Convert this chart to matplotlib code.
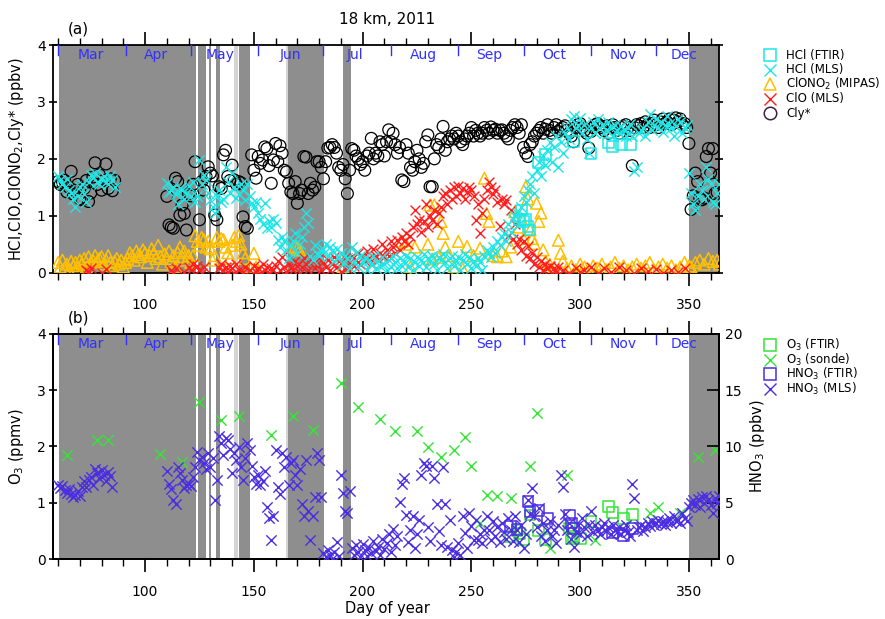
import numpy as np
import matplotlib
matplotlib.use("Agg")
import matplotlib.pyplot as plt
from matplotlib.lines import Line2D
import matplotlib.transforms as mtransforms

# ---------------- data ----------------
# Cly* (ppbv)
cly_day = [60, 61, 62, 63, 64, 65, 66, 67, 68, 69, 70, 71, 72, 73, 74, 75, 76, 77, 78, 79, 80, 81, 82, 83, 84, 85, 86,
           110, 111, 112, 113, 114, 115, 116, 117, 118, 119, 120, 121, 122, 123, 125, 126, 127, 128, 129, 130, 131, 132,
           133, 134, 135, 136, 137, 138, 139, 140, 141, 142, 143, 144, 145, 146, 147, 149, 150, 151, 152, 153, 154, 155,
           156, 157, 158, 159, 160, 161, 162, 163, 164, 165, 166, 167, 168, 169, 170, 171, 172, 173, 174, 175, 176, 177,
           178, 179, 180, 181, 182, 183, 184, 185, 186, 187, 188, 189, 190, 191, 192, 193, 194, 195, 196, 197, 198, 199,
           200, 201, 202, 203, 204, 205, 206, 207, 208, 209, 210, 211, 212, 213, 214, 215, 216, 217, 218, 219, 220, 221,
           222, 223, 224, 225, 226, 227, 228, 229, 230, 231, 232, 233, 234, 235, 236, 237, 238, 239, 240, 241, 242, 243,
           244, 245, 246, 247, 248, 249, 250, 251, 252, 253, 254, 255, 256, 257, 258, 259, 260, 261, 262, 263, 264, 265,
           266, 267, 268, 269, 270, 271, 272, 273, 274, 275, 276, 277, 278, 279, 280, 281, 282, 283, 284, 285, 286, 287,
           288, 289, 290, 291, 292, 293, 294, 295, 296, 297, 298, 299, 300, 301, 302, 303, 304, 305, 306, 307, 308, 309,
           310, 311, 312, 313, 314, 315, 316, 317, 318, 319, 320, 321, 322, 323, 324, 325, 326, 327, 328, 329, 330, 331,
           332, 333, 334, 335, 336, 337, 338, 339, 340, 341, 342, 343, 344, 345, 346, 347, 348, 349, 350,
           351, 352, 353, 354, 355, 356, 357, 358, 359, 360, 361, 362, 363, 364]
cly_val = [1.60, 1.55, 1.58, 1.62, 1.42, 1.50, 1.78, 1.38, 1.45, 1.55, 1.30, 1.28, 1.48, 1.62, 1.25, 1.40, 1.68, 1.93,
           1.55, 1.72, 1.45, 1.62, 1.91, 1.48, 1.65, 1.44, 1.62,
           1.34, 0.84, 0.80, 0.78, 1.66, 1.60, 1.01, 1.19, 1.04, 0.75, 1.39, 1.35, 1.55, 1.95, 0.93, 1.60, 1.45, 1.69,
           1.86, 1.75, 1.70, 1.01, 0.93, 1.51, 1.48, 2.07, 2.15, 1.69, 1.62, 1.89, 1.63, 1.55, 1.60, 1.58, 0.98, 0.81,
           0.78, 2.07, 1.80, 1.66, 2.04, 1.92, 1.98, 2.21, 2.18, 1.88, 1.57, 1.98, 2.27, 1.95, 2.23, 2.10, 1.80, 1.77,
           1.57, 1.42, 1.39, 1.60, 1.22, 1.39, 1.45, 2.04, 2.03, 1.39, 1.57, 1.45, 1.50, 1.95, 1.95, 1.85, 1.65, 1.95,
           2.19, 2.20, 2.25, 2.20, 2.10, 1.85, 1.80, 1.90, 1.65, 1.39, 1.80, 2.18, 2.15, 2.05, 2.00, 1.90, 1.95, 1.80,
           2.05, 2.10, 2.36, 2.00, 2.10, 2.05, 2.30, 2.25, 2.05, 2.30, 2.51, 2.30, 2.45, 2.25, 2.10, 2.20, 1.63, 1.60,
           2.25, 2.10, 1.85, 1.80, 1.95, 2.15, 2.00, 1.85, 1.92, 2.30, 2.42, 1.51, 1.51, 2.00, 2.25, 2.20, 2.35, 2.57,
           2.15, 2.30, 2.35, 2.40, 2.35, 2.45, 2.40, 2.30, 2.25, 2.35, 2.40, 2.45, 2.55, 2.40, 2.50, 2.45, 2.40, 2.45,
           2.55, 2.50, 2.45, 2.56, 2.50, 2.52, 2.45, 2.50, 2.51, 2.45, 2.40, 2.35, 2.50, 2.55, 2.60, 2.55, 2.45, 2.60,
           2.20, 2.10, 2.04, 2.25, 2.30, 2.40, 2.45, 2.50, 2.55, 2.45, 2.52, 2.60, 2.50, 2.45, 2.55, 2.60, 2.48, 2.52,
           2.55, 2.58, 2.50, 2.45, 2.40, 2.30, 2.55, 2.60, 2.62, 2.55, 2.50, 2.45, 2.19, 2.48, 2.55, 2.60, 2.62, 2.58,
           2.55, 2.50, 2.58, 2.45, 2.55, 2.60, 2.55, 2.50, 2.45, 2.55, 2.58, 2.60, 2.55, 2.50, 1.88, 2.55, 2.60, 2.58,
           2.62, 2.55, 2.65, 2.60, 2.55, 2.62, 2.68, 2.60, 2.55, 2.65, 2.70, 2.62, 2.65, 2.70, 2.60, 2.68, 2.72, 2.65,
           2.70, 2.60, 2.62, 2.55, 2.27,
           1.11, 1.35, 1.75, 1.60, 1.31, 1.28, 1.31, 2.04, 2.18, 1.75, 2.18, 1.39, 1.41, 1.72]

# HCl (MLS)
hcl_mls_day = [60, 61, 62, 63, 64, 65, 66, 67, 68, 69, 70, 71, 72, 73, 74, 75, 76, 77, 78, 79, 80, 81, 82, 83, 84, 85, 86,
               110, 111, 112, 113, 114, 115, 116, 117, 118, 119, 120, 121, 122, 123, 124, 125, 126, 127, 128, 129, 130,
               131, 132, 133, 134, 135, 136, 137, 138, 139, 140, 141, 142, 143, 144, 145, 146, 147, 148, 149, 150, 151,
               152, 153, 154, 155, 156, 157, 158, 159, 160, 161, 162, 163, 164, 165, 166, 167, 168, 169, 170, 171, 172,
               173, 174, 175, 176, 177, 178, 179, 180, 181, 182, 183, 184, 185, 186, 187, 188, 189, 190, 191, 192, 193,
               194, 195, 196, 197, 198, 199, 200, 201, 202, 203, 204, 205, 206, 207, 208, 209, 210, 211, 212, 213, 214,
               215, 216, 217, 218, 219, 220, 221, 222, 223, 224, 225, 226, 227, 228, 229, 230, 231, 232, 233, 234, 235,
               236, 237, 238, 239, 240, 241, 242, 243, 244, 245, 246, 247, 248, 249, 250, 251, 252, 253, 254, 255, 256,
               257, 258, 259, 260, 261, 262, 263, 264, 265, 266, 267, 268, 269, 270, 271, 272, 273, 274, 275, 276, 277,
               278, 279, 280, 281, 282, 283, 284, 285, 286, 287, 288, 289, 290, 291, 292, 293, 294, 295, 296, 297, 298,
               299, 300, 301, 302, 303, 304, 305, 306, 307, 308, 309, 310, 311, 312, 313, 314, 315, 316, 317, 318, 319,
               320, 321, 322, 323, 324, 325, 326, 327, 328, 329, 330, 331, 332, 333, 334, 335, 336, 337, 338, 339, 340,
               341, 342, 343, 344, 345, 346, 347, 348, 349, 350, 351, 352, 353, 354, 355, 356, 357, 358, 359, 360, 361,
               362, 363, 364]
hcl_mls_val = [1.70, 1.62, 1.55, 1.50, 1.65, 1.45, 1.40, 1.30, 1.15, 1.35, 1.50, 1.55, 1.38, 1.25, 1.60, 1.72, 1.68,
               1.75, 1.60, 1.55, 1.65, 1.70, 1.60, 1.55, 1.70, 1.62, 1.50,
               1.58, 1.42, 1.45, 1.50, 1.38, 1.20, 1.48, 1.45, 1.30, 1.40, 1.52, 1.35, 1.60, 1.25, 1.35, 1.98, 1.55,
               1.72, 1.62, 1.40, 1.28, 1.15, 1.05, 1.35, 1.45, 1.25, 1.30, 1.85, 1.60, 1.40, 1.75, 1.50, 1.32, 1.38,
               1.55, 1.45, 1.28, 1.55, 1.35, 1.22, 1.15, 1.25, 1.05, 0.95, 0.85, 1.22, 0.78, 0.90, 0.80, 0.95, 0.88,
               0.58, 0.45, 0.62, 0.55, 0.40, 0.25, 0.48, 0.55, 0.70, 0.35, 0.50, 0.62, 0.80, 1.05, 0.88, 0.30, 0.22,
               0.48, 0.35, 0.30, 0.38, 0.42, 0.50, 0.30, 0.45, 0.38, 0.20, 0.42, 0.28, 0.35, 0.15, 0.30, 0.25, 0.08,
               0.45, 0.20, 0.35, 0.10, 0.30, 0.18, 0.25, 0.05, 0.22, 0.15, 0.30, 0.08, 0.20, 0.12, 0.28, 0.15, 0.05,
               0.22, 0.10, 0.30, 0.18, 0.08, 0.25, 0.12, 0.20, 0.30, 0.10, 0.25, 0.05, 0.18, 0.28, 0.12, 0.22, 0.32,
               0.10, 0.25, 0.20, 0.30, 0.15, 0.05, 0.28, 0.22, 0.32, 0.18, 0.08, 0.25, 0.30, 0.12, 0.20, 0.28, 0.05,
               0.22, 0.32, 0.15, 0.25, 0.08, 0.20, 0.12, 0.25, 0.18, 0.05, 0.30, 0.40, 0.35, 0.28, 0.45, 0.35, 0.55,
               0.48, 0.62, 0.70, 0.55, 0.85, 0.72, 0.95, 1.00, 1.05, 0.85, 1.15, 1.35, 1.25, 1.45, 1.55, 1.70, 1.40,
               1.80, 1.95, 1.70, 2.05, 1.90, 2.15, 2.30, 1.95, 2.20, 2.40, 1.85, 2.30, 2.10, 2.45, 2.55, 2.35, 2.70,
               2.75, 2.55, 2.60, 2.72, 2.45, 2.60, 2.35, 2.10, 2.55, 2.65, 2.45, 2.70, 2.55, 2.60, 2.45, 2.50, 2.65,
               2.55, 2.40, 2.60, 2.50, 2.45, 2.58, 2.50, 2.40, 2.55, 2.62, 2.40, 1.78, 1.85, 2.45, 2.50, 2.55, 2.40,
               2.65, 2.78, 2.50, 2.60, 2.70, 2.55, 2.65, 2.48, 2.60, 2.75, 2.62, 2.55, 2.40, 2.58, 2.70, 2.65, 2.45,
               2.55, 2.60, 1.75, 1.40, 1.20, 1.10, 1.35, 1.55, 1.45, 1.30, 1.85, 1.65, 1.55, 1.25, 1.20, 1.40, 1.55]

# HCl (FTIR)
hcl_ftir_day = [272, 273, 274, 275, 276, 277, 281, 284, 297, 305, 313, 315, 319, 323]
hcl_ftir_val = [0.93, 1.10, 0.90, 0.93, 0.81, 0.75, 1.93, 2.07, 2.30, 2.10, 2.28, 2.22, 2.25, 2.25]

# ClONO2 (MIPAS)
clono2_day = [60, 61, 62, 63, 64, 65, 66, 67, 68, 69, 70, 71, 72, 73, 74, 75, 76, 77, 78, 79, 80, 81, 82, 83, 84, 85,
              86, 87, 88, 89, 90, 91, 92, 93, 94, 95, 96, 97, 98, 99, 100, 101, 102, 103, 104, 105, 106, 107, 108, 109,
              110, 111, 112, 113, 114, 115, 116, 117, 118, 119, 120, 121, 122, 123, 124, 125, 126, 127, 128, 129, 130,
              131, 132, 133, 134, 135, 136, 137, 138, 139, 140, 141, 142, 143, 144, 145, 146, 147, 148, 150, 151, 152,
              169, 170, 171, 191,
              218, 220, 222, 224, 230, 231, 232, 233, 235, 236, 237, 238, 240, 242, 244, 246, 248,
              251, 254, 256, 257, 258, 260, 262, 264, 266, 268, 270, 272,
              273, 274, 275, 276, 277, 278, 279, 280, 281, 282, 283, 284,
              286, 288, 290, 291, 292,
              294, 296, 298, 300, 302, 304, 306, 308, 310, 312, 314, 316, 318, 320, 322, 324, 326, 328, 330, 332,
              334, 336, 338, 340, 342, 344, 346, 348, 350,
              351, 353, 355, 357, 359, 361, 363, 364]
clono2_val = [0.18, 0.10, 0.22, 0.08, 0.15, 0.05, 0.20, 0.12, 0.18, 0.08, 0.22, 0.15, 0.25, 0.10, 0.28, 0.18, 0.22,
              0.30, 0.20, 0.25, 0.28, 0.15, 0.22, 0.30, 0.18, 0.12, 0.20, 0.25, 0.15, 0.22, 0.10, 0.18, 0.25, 0.35,
              0.30, 0.22, 0.38, 0.32, 0.28, 0.40, 0.35, 0.18, 0.30, 0.42, 0.35, 0.25, 0.48, 0.28, 0.15, 0.33, 0.25,
              0.38, 0.20, 0.30, 0.10, 0.35, 0.45, 0.28, 0.38, 0.22, 0.30, 0.18, 0.30, 0.65, 0.55, 0.48, 0.62, 0.58,
              0.45, 0.55, 0.42, 0.22, 0.30, 0.62, 0.55, 0.60, 0.58, 0.45, 0.35, 0.25, 0.48, 0.62, 0.55, 0.65, 0.50,
              0.35, 0.25, 0.05, 0.10, 0.34, 0.10, 0.05,
              0.46, 0.43, 0.40, 0.10,
              0.55, 0.50, 0.10, 0.45, 0.50, 1.19, 0.24, 1.19, 0.27, 0.90, 0.69, 0.45, 0.30, 0.10, 0.55, 0.07, 0.46,
              0.30, 0.43, 1.66, 1.04, 0.90, 0.30, 0.28, 0.38, 0.28, 0.45, 1.07, 0.80,
              0.95, 0.60, 1.51, 1.30, 0.75, 0.60, 0.51, 1.22, 0.90, 1.05, 0.40, 0.20,
              0.15, 0.10, 0.57, 0.34, 0.20,
              0.08, 0.12, 0.05, 0.15, 0.10, 0.05, 0.12, 0.08, 0.15, 0.05, 0.10, 0.18, 0.08, 0.12, 0.05, 0.10, 0.15,
              0.08, 0.12, 0.18, 0.05, 0.10, 0.15, 0.08, 0.12, 0.05, 0.10, 0.18, 0.12,
              0.10, 0.18, 0.22, 0.15, 0.25, 0.20, 0.22, 0.15]

# ClO (MLS)
clo_day = [73, 74, 75, 80, 82, 112, 113, 114, 118, 120, 121, 122, 124, 125, 126, 127, 134, 135, 136, 137, 138, 139,
           140, 141, 142, 143, 145, 146, 148, 150, 151, 152, 153, 154, 155, 156, 157, 158, 159, 160, 161, 162, 163, 164,
           165, 166, 167, 168, 169, 170, 171, 172, 173, 174, 175, 176, 177, 178, 179, 180, 181, 182, 183, 184, 185, 186,
           187, 188, 189, 190, 191, 192, 193, 194, 195, 196, 197, 198, 199, 200, 201, 202, 203, 204, 205, 206, 207, 208,
           209, 210, 211, 212, 213, 214, 215, 216, 217, 218, 219, 220, 221, 222, 223, 224, 225, 226, 227, 228, 229, 230,
           231, 232, 233, 234, 235, 236, 237, 238, 239, 240, 241, 242, 243, 244, 245, 246, 247, 248, 249, 250, 251, 252,
           253, 254, 255, 256, 257, 258, 259, 260, 261, 262, 263, 264, 265, 266, 267, 268, 269, 270, 271, 272, 273, 274,
           275, 276, 277, 278, 279, 280, 281, 282, 283, 284, 285, 286, 287, 288, 289, 290, 292, 295, 298, 300, 302, 305,
           308, 311, 314, 318, 321, 325, 328, 331, 335, 338, 342, 345, 348]
clo_val = [0.05, 0.02, 0.08, 0.00, 0.07, 0.05, 0.00, 0.08, 0.02, 0.10, 0.05, 0.15, 0.12, 0.05, 0.00, 0.10, 0.08, 0.15,
           0.05, 0.10, 0.02, 0.12, 0.08, 0.00, 0.15, 0.05, 0.02, 0.10, 0.05, 0.12, 0.02, 0.08, 0.00, 0.15, 0.05, 0.10,
           0.00, 0.08, 0.05, 0.12, 0.20, 0.05, 0.28, 0.10, 0.02, 0.15, 0.08, 0.05, 0.20, 0.12, 0.00, 0.10, 0.25, 0.15,
           0.05, 0.30, 0.20, 0.08, 0.15, 0.25, 0.05, 0.18, 0.10, 0.22, 0.05, 0.15, 0.28, 0.10, 0.20, 0.02, 0.15, 0.25,
           0.08, 0.18, 0.30, 0.12, 0.22, 0.35, 0.15, 0.28, 0.20, 0.38, 0.25, 0.15, 0.42, 0.30, 0.22, 0.35, 0.50, 0.28,
           0.40, 0.30, 0.55, 0.45, 0.35, 0.58, 0.40, 0.62, 0.55, 0.70, 0.50, 0.65, 0.80, 1.10, 0.85, 0.93, 0.72, 0.90,
           1.20, 0.80, 1.00, 0.92, 1.10, 0.85, 1.05, 1.15, 1.35, 1.40, 1.20, 1.45, 1.30, 1.50, 1.35, 1.52, 1.40, 1.48,
           1.30, 1.42, 1.50, 1.45, 1.35, 0.93, 1.20, 0.70, 1.05, 1.30, 1.45, 1.60, 1.50, 1.38, 1.45, 1.25, 0.82, 1.30,
           1.20, 1.28, 0.65, 1.10, 0.60, 0.85, 0.50, 0.60, 0.40, 0.55, 0.30, 0.47, 0.25, 0.35, 0.15, 0.28, 0.10, 0.20,
           0.05, 0.15, 0.08, 0.12, 0.00, 0.08, 0.02, 0.10, 0.05, 0.00, 0.08, 0.02, 0.05, 0.10, 0.00, 0.08, 0.02, 0.10,
           0.05, 0.00, 0.08, 0.03, 0.07, 0.00, 0.05, 0.02, 0.08]

# O3 sonde (ppmv)
o3_sonde_day = [64, 78, 83, 107, 117, 125, 135, 143, 158, 168, 177, 190, 198, 208, 215, 225, 230, 236, 242, 247, 250,
                254, 257, 262, 268, 277, 280, 286, 294, 307, 332, 336, 346, 354, 362]
o3_sonde_val = [1.85, 2.11, 2.12, 1.86, 1.73, 2.78, 2.46, 2.54, 2.20, 2.54, 2.29, 3.12, 2.69, 2.48, 2.28, 2.28, 1.98,
                1.82, 1.94, 2.16, 1.65, 0.64, 1.14, 1.12, 1.08, 1.65, 2.60, 0.19, 1.49, 0.33, 0.81, 0.92, 0.82, 1.81,
                1.94]

# O3 FTIR (ppmv)
o3_ftir_day = [268, 271, 272, 274, 277, 281, 284, 295, 296, 297, 300, 305, 313, 315, 320, 324]
o3_ftir_val = [0.40, 0.51, 0.45, 0.34, 0.78, 0.51, 0.34, 0.55, 0.37, 0.40, 0.36, 0.66, 0.93, 0.82, 0.72, 0.79]

# HNO3 FTIR (ppbv)
hno3_ftir_day = [268, 271, 276, 277, 281, 285, 295, 296, 297, 315, 320, 324]
hno3_ftir_val = [2.9, 2.6, 5.1, 4.2, 4.3, 3.6, 3.9, 3.2, 2.7, 2.3, 2.1, 2.7]

# HNO3 MLS (ppbv)
hno3_mls_day = [60, 61, 62, 63, 64, 65, 66, 67, 68, 69, 70, 71, 72, 73, 74, 75, 76, 77, 78, 79, 80, 81, 82, 83, 84, 85,
                110, 111, 112, 113, 114, 115, 116, 117, 118, 119, 120, 121, 122, 123, 124, 125, 126, 127, 128, 129,
                130, 131, 132, 133, 134, 135, 136, 137, 138, 139, 140, 141, 142, 143, 144, 145, 146, 147, 148, 149,
                150, 151, 152, 153, 154, 155, 156, 157, 158, 159, 160, 161, 162, 163, 164, 165, 166, 167, 168, 169,
                170, 171, 172, 173, 174, 175, 176, 177, 178, 179, 180, 181, 182, 183, 184, 185, 186, 187, 188, 189,
                190, 191, 192, 193, 194, 195, 196, 197, 198, 199, 200, 201, 202, 203, 204, 205, 206, 207, 208, 209,
                210, 211, 212, 213, 214, 215, 216, 217, 218, 219, 220, 221, 222, 223, 224, 225, 226, 227, 228, 229,
                230, 231, 232, 233, 234, 235, 236, 237, 238, 239, 240, 241, 242, 243, 244, 245, 246, 247, 248, 249,
                250, 251, 252, 253, 254, 255, 256, 257, 258, 259, 260, 261, 262, 263, 264, 265, 266, 267, 268, 269,
                270, 271, 272, 273, 274, 275, 276, 277, 278, 279, 280, 281, 282, 283, 284, 285, 286, 287, 288, 289,
                290, 291, 292, 293, 294, 295, 296, 297, 298, 299, 300, 301, 302, 303, 304, 305, 306, 307, 308, 309,
                310, 311, 312, 313, 314, 315, 316, 317, 318, 319, 320, 321, 322, 323, 324, 325, 326, 327, 328, 329,
                330, 331, 332, 333, 334, 335, 336, 337, 338, 339, 340, 341, 342, 343, 344, 345, 346, 347, 348, 349,
                350, 351, 352, 353, 354, 355, 356, 357, 358, 359, 360, 361, 362, 363, 364]
hno3_mls_val = [6.6, 6.3, 6.5, 6.1, 5.9, 6.2, 5.8, 5.5, 5.7, 6.0, 5.6, 6.4, 6.9, 6.4, 7.0, 7.3, 6.6, 8.0, 7.6, 7.2,
                7.9, 7.5, 6.9, 7.7, 7.4, 6.4,
                7.8, 6.7, 6.2, 5.2, 4.9, 8.2, 7.6, 7.0, 6.3, 6.6, 6.7, 6.5, 7.3, 8.2, 9.5, 8.8, 9.1, 8.5, 8.0, 9.4,
                8.2, 9.0, 5.2, 7.0, 10.9, 10.3, 9.2, 10.7, 10.6, 9.8, 7.6, 9.4, 8.8, 9.9, 8.2, 7.0, 9.0, 10.3, 9.7,
                8.3, 7.3, 6.7, 7.5, 6.6, 6.9, 7.8, 4.6, 3.6, 1.7, 3.8, 9.7, 6.4, 5.8, 9.4, 8.2, 9.1, 6.6, 8.5, 8.8,
                7.5, 6.6, 8.0, 4.9, 3.8, 8.8, 4.3, 1.7, 3.8, 5.5, 9.4, 8.8, 5.5,
                0.5, 0.2, 0.8, 0.4, 0.0, 0.6, 1.5, 0.3, 7.5, 5.9, 4.3, 4.1, 6.0, 1.0, 0.4, 1.2, 0.6, 0.2, 1.3, 0.8,
                0.3, 1.0, 0.5, 1.6, 0.7, 1.1, 0.4, 1.8, 0.9, 1.4, 2.2, 0.6, 2.7, 1.2, 2.0, 5.1, 6.7, 7.2, 3.9, 1.5,
                2.6, 3.8, 1.0, 2.2, 3.5, 7.5, 8.5, 8.3, 2.8, 1.6, 8.3, 7.2, 4.9, 2.5,
                1.2, 8.2, 4.9, 1.1, 3.5, 0.8, 0.2, 0.6, 1.4, 0.4, 3.8, 2.3, 1.0, 4.1, 2.9, 1.7, 3.5, 1.7, 2.2, 1.4,
                2.6, 3.8, 2.6, 1.7, 3.4, 2.0, 2.8, 1.5, 3.2, 2.4, 1.8, 3.6, 2.6, 1.6, 3.8, 2.6, 1.5, 3.0, 1.0, 2.2,
                5.2, 4.0, 6.3, 3.8, 2.8, 4.5, 2.0, 3.2, 1.6, 2.6, 3.4, 2.0, 2.6, 1.4, 3.0, 7.5, 6.4, 4.0, 2.6, 3.2,
                1.8, 1.1, 2.4, 3.0, 2.2, 3.6, 2.8, 2.0, 3.0, 4.3, 2.4, 3.0, 2.6, 2.2, 2.8, 3.2, 2.5, 2.8, 2.2, 3.0,
                2.6, 2.4, 2.8, 2.2, 2.6, 3.0, 2.4, 2.0, 6.7, 5.4, 2.6, 2.8, 3.0, 2.5, 2.8, 3.2, 2.9, 3.4, 3.0, 3.2,
                3.5, 3.1, 3.4, 3.0, 3.3, 3.6, 3.2, 3.8, 3.4, 3.5, 3.2, 4.1, 3.6, 3.4, 4.6, 5.0, 5.2, 4.8, 5.3, 4.6,
                5.5, 5.0, 5.6, 5.2, 4.8, 4.1, 5.4, 5.0, 5.6]

# periods without sunlight / shading (day ranges)
dark_spans = [(60.2, 123.2), (124.4, 128.0), (129.5, 130.3), (132.4, 134.3), (143.3, 148.4),
              (165.7, 182.4), (191.1, 194.5), (349.9, 364.5)]
light_spans = [(140.8, 142.7), (164.8, 165.7)]

month_start = [60, 91, 121, 152, 182, 213, 244, 274, 305, 335]
month_names = ['Mar', 'Apr', 'May', 'Jun', 'Jul', 'Aug', 'Sep', 'Oct', 'Nov', 'Dec']
month_mid = [75, 105, 134.5, 167, 196.5, 228, 258, 288, 320, 348]

# ---------------- colours ----------------
c_cyan = '#1ee6e6'
c_orange = '#ffbf00'
c_red = '#ff1e1e'
c_green = '#33e633'
c_blue = '#4a2ee0'
c_month = '#3030ff'
c_gray = '#8e8e8e'

plt.rcParams['font.family'] = 'DejaVu Sans'

fig = plt.figure(figsize=(8.85, 6.19), dpi=100)
ax1 = fig.add_axes([0.0595, 0.5595, 0.7533, 0.3678])
ax2 = fig.add_axes([0.0595, 0.0969, 0.7533, 0.3640])


def decorate(ax):
    for a, b in dark_spans:
        ax.axvspan(a, b, color=c_gray, lw=0, zorder=0)
    for a, b in light_spans:
        ax.axvspan(a, b, color='#d4d4d4', lw=0, zorder=0)
    trans = mtransforms.blended_transform_factory(ax.transData, ax.transAxes)
    for d in month_start:
        ax.plot([d, d], [1.0, 0.955], color=c_month, lw=1, transform=trans, zorder=5, clip_on=False)
    for d, name in zip(month_mid, month_names):
        ax.text(d, 0.955, name, color=c_month, fontsize=10, ha='center', va='center', transform=trans, zorder=5)
    ax.set_xlim(57.5, 364)
    ax.set_ylim(0, 4)
    ax.set_xticks([100, 150, 200, 250, 300, 350])
    ax.set_xticks(np.arange(60, 364, 10), minor=True)
    ax.set_yticks([0, 1, 2, 3, 4])
    for s in ax.spines.values():
        s.set_linewidth(1.3)
    ax.tick_params(axis='x', which='major', direction='out', length=9.5, width=1.2, top=True, bottom=True,
                   labelsize=10, pad=9)
    ax.tick_params(axis='x', which='minor', direction='out', length=5, width=1.0, top=True, bottom=True)
    ax.tick_params(axis='y', which='major', direction='inout', length=6, width=1.2, labelsize=10, pad=2)


# ---------------- panel (a) ----------------
decorate(ax1)
ax1.scatter(cly_day, cly_val, s=72, marker='o', facecolors='none', edgecolors='black', linewidths=0.9, zorder=2)
ax1.scatter(clono2_day, clono2_val, s=70, marker='^', facecolors='none', edgecolors=c_orange, linewidths=1.1, zorder=3)
ax1.scatter(clo_day, clo_val, s=50, marker='x', color=c_red, linewidths=1.0, zorder=3)
ax1.scatter(hcl_mls_day, hcl_mls_val, s=55, marker='x', color=c_cyan, linewidths=1.0, zorder=4)
ax1.scatter(hcl_ftir_day, hcl_ftir_val, s=60, marker='s', facecolors='none', edgecolors=c_cyan, linewidths=1.1,
            zorder=4)
ax1.set_ylabel('HCl,ClO,ClONO$_2$,Cly* (ppbv)', fontsize=10.5, labelpad=8)
ax1.tick_params(axis='y', which='major', right=True)
ax1.tick_params(axis='x', labeltop=False)

# ---------------- panel (b) ----------------
decorate(ax2)
ax2.scatter(o3_ftir_day, o3_ftir_val, s=60, marker='s', facecolors='none', edgecolors=c_green, linewidths=1.1,
            zorder=3)
ax2.scatter(o3_sonde_day, o3_sonde_val, s=55, marker='x', color=c_green, linewidths=1.0, zorder=3)
ax2.set_ylabel('O$_3$ (ppmv)', fontsize=10.5, labelpad=8)
ax2.tick_params(axis='x', labeltop=False)

ax3 = ax2.twinx()
ax3.set_ylim(0, 20)
ax3.set_yticks([0, 5, 10, 15, 20])
ax3.tick_params(axis='y', direction='in', length=9, width=1.2, labelsize=10, pad=4)
ax3.scatter(hno3_ftir_day, hno3_ftir_val, s=60, marker='s', facecolors='none', edgecolors=c_blue, linewidths=1.1,
            zorder=4)
ax3.scatter(hno3_mls_day, hno3_mls_val, s=55, marker='x', color=c_blue, linewidths=1.0, zorder=4)
ax3.set_ylabel('HNO$_3$ (ppbv)', fontsize=10.5, labelpad=4)
ax3.set_xlim(57.5, 364)
for s in ax3.spines.values():
    s.set_linewidth(1.3)

# ---------------- titles ----------------
W, H = 885.0, 619.0
fig.text(0.437, 0.968, '18 km, 2011', fontsize=11, ha='center', va='center')
fig.text(0.089, 0.953, '(a)', fontsize=11, ha='center', va='center')
fig.text(0.089, 0.486, '(b)', fontsize=11, ha='center', va='center')
fig.text(387 / W, 1 - 609 / H, 'Day of year', fontsize=10.5, ha='center', va='center')

# ---------------- legends (drawn in figure pixels) ----------------


def legend_rows(entries, y0, dy):
    for i, (label, marker, col, filled) in enumerate(entries):
        y = 1 - (y0 + i * dy) / H
        kw = dict(marker=marker, markersize=9, linestyle='none', transform=fig.transFigure)
        if filled:
            kw.update(color=col, markeredgewidth=1.0)
        else:
            kw.update(markerfacecolor='none', markeredgecolor=col, markeredgewidth=1.1)
        fig.add_artist(Line2D([770 / W], [y], **kw))
        fig.text(786 / W, y, label, fontsize=8.5, ha='left', va='center')


legend_rows([('HCl (FTIR)', 's', c_cyan, False),
             ('HCl (MLS)', 'x', c_cyan, True),
             ('ClONO$_2$ (MIPAS)', '^', c_orange, False),
             ('ClO (MLS)', 'x', c_red, True),
             ('Cly*', 'o', '#402040', False)], 55, 14.6)
legend_rows([('O$_3$ (FTIR)', 's', c_green, False),
             ('O$_3$ (sonde)', 'x', c_green, True),
             ('HNO$_3$ (FTIR)', 's', c_blue, False),
             ('HNO$_3$ (MLS)', 'x', c_blue, True)], 345, 14.5)

fig.savefig('out.png', dpi=100)
